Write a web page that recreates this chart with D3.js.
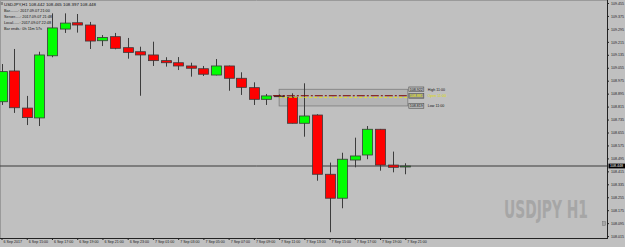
<!DOCTYPE html>
<html><head><meta charset="utf-8">
<script src="https://cdn.jsdelivr.net/npm/d3@7"></script>
<style>html,body{margin:0;padding:0;background:#c0c0c0;overflow:hidden}svg{display:block}</style>
</head><body>
<svg id="c" width="625" height="247"></svg>
<script>
// ---- data (USDJPY H1, bars from 6 Sep 2017 13:00) ----
const opens  = [108.845,109.035,108.806,108.745,109.129,109.294,109.333,109.319,109.222,109.247,109.179,109.154,109.134,109.099,109.086,109.066,109.049,109.010,109.066,108.990,108.932,108.860,108.881,108.873,108.712,108.763,108.397,108.249,108.485,108.516,108.675,108.454,108.442];
const highs  = [109.078,109.171,108.881,109.154,109.391,109.391,109.387,109.338,109.257,109.270,109.239,109.185,109.216,109.120,109.121,109.086,109.066,109.109,109.068,109.027,108.965,108.893,108.890,108.897,108.959,108.768,108.469,108.530,108.623,108.695,108.677,108.537,108.465];
const lows   = [108.825,108.776,108.701,108.695,109.120,109.270,109.272,109.171,109.189,109.169,109.111,108.882,109.066,109.062,109.041,109.000,109.004,109.008,108.913,108.887,108.825,108.825,108.871,108.711,108.629,108.357,108.039,108.187,108.440,108.490,108.419,108.409,108.397];
const closes = [109.031,108.808,108.747,109.134,109.301,109.331,109.319,109.220,109.242,109.175,109.150,109.134,109.099,109.086,109.066,109.052,109.015,109.066,108.990,108.934,108.860,108.881,108.877,108.712,108.757,108.397,108.249,108.490,108.510,108.675,108.454,108.440,108.448];
const xTickIndex  = [0,2,4,6,8,10,12,14,16,18,20,22,24,26,28,30,32];
const xTickLabels = ["6 Sep 2017","6 Sep 15:00","6 Sep 17:00","6 Sep 19:00","6 Sep 21:00","6 Sep 23:00","7 Sep 01:00","7 Sep 03:00","7 Sep 05:00","7 Sep 07:00","7 Sep 09:00","7 Sep 11:00","7 Sep 13:00","7 Sep 15:00","7 Sep 17:00","7 Sep 19:00","7 Sep 21:00"];
const yTickValues = [109.455,109.375,109.295,109.215,109.135,109.055,108.975,108.895,108.815,108.735,108.655,108.575,108.495,108.415,108.335,108.255,108.175,108.095,108.015];
// range box (from 7 Sep 11:00 bar)
const rangeLevels = [108.922, 108.881, 108.819];
const rangeNames  = ["High 11:00", "Open 11:00", "Low 11:00"];
const rangeStart = 22, rangeEnd = 32.2;
const dailyLine = 108.882, yellowLine = 108.872;
const infoLines = ["Bar........: 2017.09.07 21:00","Server.....: 2017.09.07 21:48","Local......: 2017.09.07 22:48","Bar ends.: 0h 11m 57s"];

const svg = d3.select("#c");
const plotRight = 607, plotBottom = 238;
const font = "'Liberation Sans', Arial, sans-serif";
const x = d3.scaleLinear().domain([0, 32]).range([1.5, 405.3]);
const y = d3.scaleLinear().domain([108.015, 109.455]).range([236.1, 3]);
const n = closes.length;
const idx = d3.range(n);

svg.append("rect").attr("width", 625).attr("height", 247).attr("fill", "#c0c0c0");

// top / left frame lines
svg.append("line").attr("x1",0).attr("x2",plotRight).attr("y1",0.5).attr("y2",0.5).attr("stroke","#9a9a9a");
svg.append("line").attr("x1",0.5).attr("x2",0.5).attr("y1",0).attr("y2",plotBottom).attr("stroke","#9a9a9a");

// watermark (condensed by horizontal scaling)
const wm = svg.append("text")
  .attr("font-family", "'DejaVu Sans', sans-serif").attr("font-weight", "bold")
  .attr("font-size", 24).attr("fill", "#a6a6a6")
  .text("USDJPY H1");
const wmW = wm.node().getComputedTextLength();
wm.attr("transform", `translate(504,218.3) scale(${84 / wmW},1)`);

// range box (background)
svg.append("rect")
  .attr("x", x(rangeStart)).attr("y", y(rangeLevels[0]))
  .attr("width", x(rangeEnd) - x(rangeStart))
  .attr("height", y(rangeLevels[2]) - y(rangeLevels[0]))
  .attr("fill", "#b4b4b4").attr("stroke", "#7c7c7c").attr("stroke-width", 0.8);

// current price line
const last = closes[n-1];
svg.append("line").attr("x1", 0).attr("x2", plotRight)
  .attr("y1", y(last)).attr("y2", y(last)).attr("stroke", "#3a3a3a").attr("stroke-width", 1);

// candles
const g = svg.append("g");
g.selectAll("line.wick").data(idx).join("line").attr("class","wick")
  .attr("x1", i => Math.round(x(i)) + 0.5).attr("x2", i => Math.round(x(i)) + 0.5)
  .attr("y1", i => y(highs[i])).attr("y2", i => y(lows[i]))
  .attr("stroke", "#3c3c3c").attr("stroke-width", 1);
g.selectAll("rect.body").data(idx).join("rect").attr("class","body")
  .attr("x", i => Math.round(x(i)) - 4.5)
  .attr("y", i => y(Math.max(opens[i], closes[i])))
  .attr("width", 10)
  .attr("height", i => Math.max(0.8, Math.abs(y(opens[i]) - y(closes[i]))))
  .attr("fill", i => closes[i] >= opens[i] ? "#00ff00" : "#ff0000")
  .attr("stroke", "#3a3a3a").attr("stroke-width", 0.8);

// level lines
svg.append("line").attr("x1", x(rangeStart - 0.5)).attr("x2", x(rangeEnd))
  .attr("y1", y(dailyLine)).attr("y2", y(dailyLine))
  .attr("stroke", "#7a0000").attr("stroke-width", 1).attr("stroke-dasharray", "8,2,2,2");
svg.append("line").attr("x1", x(rangeStart)).attr("x2", x(rangeEnd))
  .attr("y1", y(yellowLine)).attr("y2", y(yellowLine))
  .attr("stroke", "#f0f000").attr("stroke-width", 0.8).attr("stroke-dasharray", "3,2");

// range labels
const rl = svg.append("g");
rangeLevels.forEach((v, k) => {
  const cy = y(v);
  rl.append("rect").attr("x", x(rangeEnd) + 1).attr("y", cy - 2.3).attr("width", 15).attr("height", 4.6)
    .attr("fill", k === 1 ? "#8a8a8a" : "#b8b8b8").attr("stroke", "#505050").attr("stroke-width", 0.6);
  rl.append("text").attr("x", x(rangeEnd) + 8.5).attr("y", cy + 1.3).attr("text-anchor", "middle")
    .attr("font-family", font).attr("font-size", 3.6).attr("fill", k === 1 ? "#ffff00" : "#111")
    .text(d3.format(".3f")(v));
  rl.append("text").attr("x", x(rangeEnd) + 20).attr("y", cy + 1.3)
    .attr("font-family", font).attr("font-size", 3.6).attr("fill", k === 1 ? "#dddd00" : "#111")
    .text(rangeNames[k]);
});

// y axis (right)
const yAxis = d3.axisRight(y).tickValues(yTickValues).tickSize(2).tickPadding(2).tickFormat(d3.format(".3f"));
const ya = svg.append("g").attr("transform", `translate(${plotRight},0)`).call(yAxis);
ya.select(".domain").remove();
ya.selectAll("line").attr("stroke", "#222");
ya.selectAll("text").attr("font-family", font).attr("font-size", 3.6).attr("fill", "#1a1a1a");
svg.append("line").attr("x1", plotRight + 0.5).attr("x2", plotRight + 0.5).attr("y1", 0).attr("y2", plotBottom + 0.5)
  .attr("stroke", "#222").attr("stroke-width", 1);

// current price tag
svg.append("rect").attr("x", plotRight + 1.5).attr("y", y(last) - 2.4).attr("width", 17).attr("height", 4.8).attr("fill", "#000");
svg.append("text").attr("x", plotRight + 3).attr("y", y(last) + 1.3)
  .attr("font-family", font).attr("font-size", 3.6).attr("fill", "#fff").text(d3.format(".3f")(last));

// x axis (bottom)
const xAxis = d3.axisBottom(x).tickValues(xTickIndex).tickSize(2).tickFormat((d, i) => xTickLabels[i]);
const xa = svg.append("g").attr("transform", `translate(0,${plotBottom})`).call(xAxis);
xa.select(".domain").remove();
xa.selectAll("line").attr("stroke", "#222");
xa.selectAll("text").attr("font-family", font).attr("font-size", 3.6).attr("fill", "#1a1a1a")
  .attr("text-anchor", "start").attr("dx", 1.5).attr("y", 2).attr("dy", "0.9em");
svg.append("line").attr("x1", 0).attr("x2", plotRight + 1).attr("y1", plotBottom + 0.5).attr("y2", plotBottom + 0.5)
  .attr("stroke", "#222").attr("stroke-width", 1);

// small shift marker near bottom right
svg.append("rect").attr("x", 602.5).attr("y", 221.5).attr("width", 3).attr("height", 4)
  .attr("fill", "#a8a8a8").attr("stroke", "#777").attr("stroke-width", 0.5);

// header & info panel
const c = n - 1;
svg.append("rect").attr("x", 0.5).attr("y", 2).attr("width", 2.5).attr("height", 3).attr("fill", "#888");
svg.append("text").attr("x", 4).attr("y", 5.5).attr("font-family", font).attr("font-size", 4.4).attr("fill", "#111")
  .text(`USDJPY,H1  ${d3.format(".3f")(opens[c])}  ${d3.format(".3f")(highs[c])}  ${d3.format(".3f")(lows[c])}  ${d3.format(".3f")(closes[c])}`);
infoLines.forEach((t, k) => {
  svg.append("text").attr("x", 4).attr("y", 11.5 + k * 6).attr("font-family", font).attr("font-size", 3.8)
    .attr("fill", "#111").text(t);
});
</script>
</body></html>
